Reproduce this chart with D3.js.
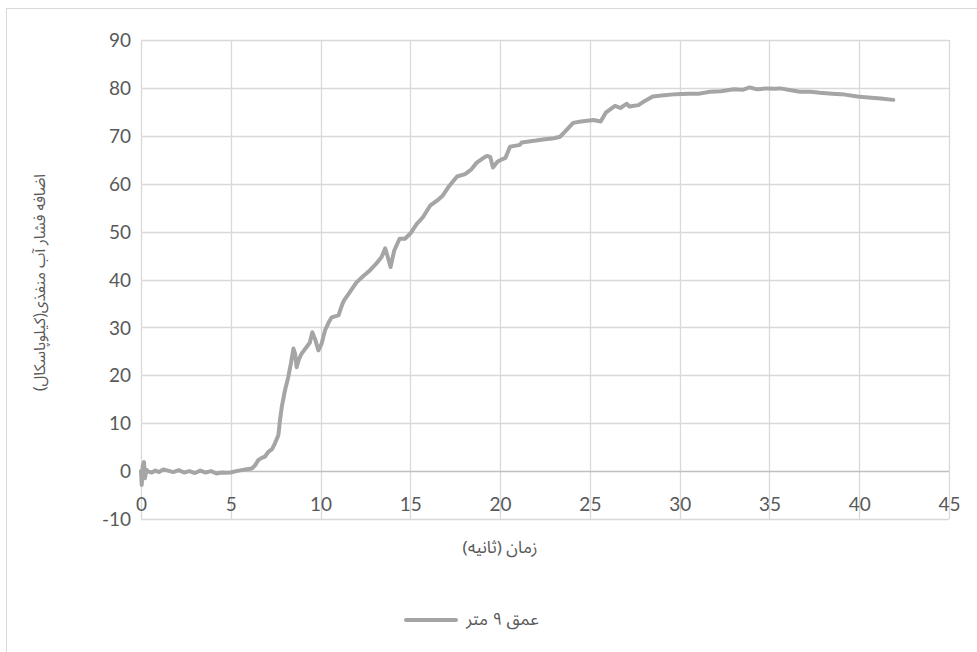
<!DOCTYPE html>
<html>
<head>
<meta charset="utf-8">
<script src="https://cdn.jsdelivr.net/npm/d3@7"></script>
<style>
  html, body { margin: 0; padding: 0; background: #ffffff; }
  svg { display: block; }
  text { fill: #595959; }
  .num { font-family: Lato, "Open Sans", sans-serif; }
  .fa { font-family: "Noto Sans Arabic", "DejaVu Sans", "Noto Sans", sans-serif; }
</style>
</head>
<body>
<svg id="chart" width="977" height="652"></svg>
<script>
// Excess pore water pressure at 9 m depth over time
const timeSec = [0, 0.04, 0.1, 0.17, 0.22, 0.3, 0.4, 0.6, 0.8, 1.0, 1.24, 1.5, 1.8, 2.1, 2.4, 2.7, 3.0, 3.3, 3.6, 3.9, 4.2, 4.5, 4.7, 5.0, 5.3, 5.6, 5.9, 6.17, 6.35, 6.53, 6.7, 6.9, 7.09, 7.3, 7.46, 7.65, 7.74, 7.84, 8.02, 8.2, 8.35, 8.49, 8.58, 8.67, 8.8, 8.94, 9.08, 9.22, 9.4, 9.54, 9.7, 9.88, 10.05, 10.25, 10.45, 10.62, 10.8, 11.0, 11.15, 11.3, 11.6, 12.0, 12.4, 12.75, 13.1, 13.4, 13.6, 13.72, 13.9, 14.1, 14.4, 14.7, 15.0, 15.36, 15.7, 16.1, 16.5, 16.8, 17.1, 17.6, 18.05, 18.4, 18.7, 19.0, 19.26, 19.45, 19.6, 19.85, 20.1, 20.3, 20.55, 20.8, 21.1, 21.2, 21.6, 22.0, 22.5, 23.0, 23.34, 23.6, 24.07, 24.5, 25.2, 25.6, 25.9, 26.4, 26.7, 27.06, 27.2, 27.7, 27.98, 28.5, 29.0, 29.8, 30.5, 31.1, 31.7, 32.3, 33.0, 33.5, 33.9, 34.3, 34.85, 35.3, 35.6, 36.2, 36.7, 37.3, 37.8, 38.5, 39.2, 39.9, 40.5, 41.2, 41.9];
const pressureKPa = [0, -2.9, 1.2, 1.9, -1.5, 0.3, -0.1, -0.3, 0.1, -0.2, 0.35, 0.1, -0.2, 0.2, -0.3, 0.0, -0.4, 0.1, -0.3, 0.0, -0.5, -0.3, -0.35, -0.3, 0.0, 0.2, 0.4, 0.55, 1.2, 2.3, 2.7, 3.0, 4.0, 4.6, 5.8, 7.5, 10.6, 13.4, 16.9, 19.6, 22.5, 25.6, 24.5, 21.7, 23.4, 24.5, 25.2, 25.9, 26.8, 29.0, 27.5, 25.2, 26.5, 29.4, 31.0, 32.1, 32.3, 32.5, 34.2, 35.6, 37.2, 39.4, 40.8, 41.9, 43.3, 44.7, 46.5, 45.0, 42.6, 46.0, 48.5, 48.5, 49.6, 51.6, 53.0, 55.4, 56.5, 57.5, 59.2, 61.5, 62.0, 63.0, 64.4, 65.2, 65.8, 65.6, 63.4, 64.6, 65.1, 65.4, 67.7, 67.9, 68.1, 68.6, 68.8, 69.0, 69.3, 69.5, 69.8, 70.8, 72.7, 73.0, 73.3, 72.98, 74.9, 76.25, 75.8, 76.7, 76.1, 76.4, 77.1, 78.2, 78.4, 78.7, 78.8, 78.8, 79.2, 79.3, 79.7, 79.6, 80.1, 79.7, 79.9, 79.8, 79.9, 79.5, 79.2, 79.2, 79.0, 78.8, 78.6, 78.2, 78.0, 77.8, 77.5];

const xTicks = [0, 5, 10, 15, 20, 25, 30, 35, 40, 45];
const yTicks = [-10, 0, 10, 20, 30, 40, 50, 60, 70, 80, 90];

const xTitle = "زمان (ثانیه)";
const yTitle = "اضافه فشار آب منفذی(کیلوپاسکال)";
const seriesName = "عمق ۹ متر";

const svg = d3.select("#chart");
const W = 977, H = 652;
const plot = { left: 141, right: 949, top: 40, bottom: 519 };

// Outer chart frame
svg.append("rect")
  .attr("x", 6.5).attr("y", 8.5)
  .attr("width", W + 10).attr("height", H + 10)
  .attr("fill", "#ffffff")
  .attr("stroke", "#d9d9d9").attr("stroke-width", 1);

const x = d3.scaleLinear().domain([0, 45]).range([plot.left, plot.right]);
const y = d3.scaleLinear().domain([-10, 90]).range([plot.bottom, plot.top]);

// Gridlines
const grid = svg.append("g").attr("stroke", "#d9d9d9").attr("stroke-width", 1.3);
grid.selectAll("line.v").data(xTicks).join("line")
  .attr("x1", d => Math.round(x(d)) + 0.5).attr("x2", d => Math.round(x(d)) + 0.5)
  .attr("y1", plot.top).attr("y2", plot.bottom);
grid.selectAll("line.h").data(yTicks).join("line")
  .attr("y1", d => Math.round(y(d)) + 0.5).attr("y2", d => Math.round(y(d)) + 0.5)
  .attr("x1", plot.left).attr("x2", plot.right)
  .attr("stroke", d => d === 0 ? "#bfbfbf" : "#d9d9d9");

// Plain hyphen for negative tick values
const plainFormat = d => String(d);

// Y axis tick labels
const yAxis = d3.axisLeft(y).tickValues(yTicks).tickSize(0).tickPadding(0).tickFormat(plainFormat);
const gy = svg.append("g").attr("transform", `translate(${plot.left - 10},0)`).call(yAxis);
gy.select(".domain").remove();
gy.selectAll("text").attr("class", "num").style("font-size", "19px")
  .attr("fill", "#595959").attr("dy", "0.35em");

// X axis tick labels, sitting just under the zero line
const xAxis = d3.axisBottom(x).tickValues(xTicks).tickSize(0).tickPadding(0).tickFormat(plainFormat);
const gx = svg.append("g").attr("transform", `translate(0,${y(0) + 33})`).call(xAxis);
gx.select(".domain").remove();
gx.selectAll("text").attr("class", "num").style("font-size", "19px")
  .attr("fill", "#595959").attr("dy", "0.35em");
svg.selectAll("g").attr("font-family", null);

// Series line
const line = d3.line().x((d, i) => x(timeSec[i])).y(d => y(d)).curve(d3.curveLinear);
svg.append("path")
  .datum(pressureKPa)
  .attr("d", line)
  .attr("fill", "none")
  .attr("stroke", "#a5a5a5")
  .attr("stroke-width", 4)
  .attr("stroke-linejoin", "round")
  .attr("stroke-linecap", "round");

// Axis titles
svg.append("text")
  .attr("class", "fa")
  .attr("x", 500).attr("y", 548)
  .attr("text-anchor", "middle").attr("dominant-baseline", "central")
  .attr("direction", "rtl")
  .style("font-size", "17px")
  .text(xTitle);

svg.append("text")
  .attr("class", "fa")
  .attr("transform", `translate(40,${(plot.top + plot.bottom) / 2 + 3}) rotate(-90)`)
  .attr("text-anchor", "middle").attr("dominant-baseline", "central")
  .attr("direction", "rtl")
  .style("font-size", "15.5px")
  .text(yTitle);

// Legend
const legY = 620;
svg.append("line")
  .attr("x1", 406).attr("x2", 456)
  .attr("y1", legY).attr("y2", legY)
  .attr("stroke", "#a5a5a5").attr("stroke-width", 4).attr("stroke-linecap", "round");
svg.append("text")
  .attr("class", "fa")
  .attr("x", 466).attr("y", legY)
  .attr("text-anchor", "start").attr("dominant-baseline", "central")
  .style("font-size", "17px")
  .text(seriesName);
</script>
</body>
</html>
